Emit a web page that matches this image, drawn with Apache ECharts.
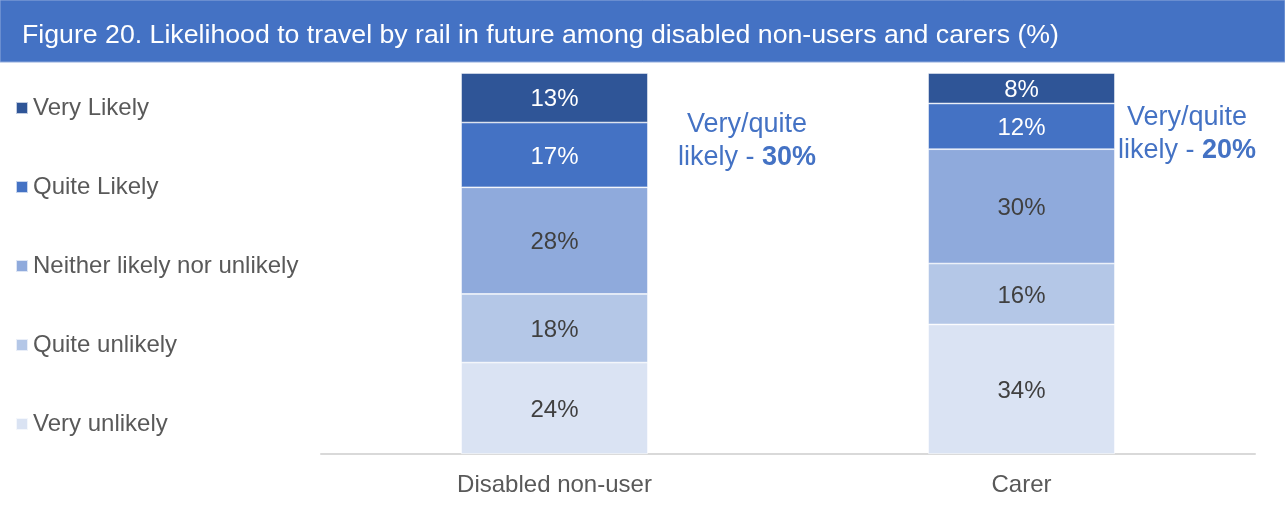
<!DOCTYPE html>
<html>
<head>
<meta charset="utf-8">
<script src="https://cdn.jsdelivr.net/npm/echarts@6/dist/echarts.min.js"></script>
<style>
  html, body { margin: 0; padding: 0; background: #fff; }
  #chart { width: 1285px; height: 511px; }
</style>
</head>
<body>
<div id="chart"></div>
<script>
// Survey groups and answer shares (%)
const categories = ['Disabled non-user', 'Carer'];
const veryUnlikely = [24, 34];
const quiteUnlikely = [18, 16];
const neitherLikely = [28, 30];
const quiteLikely = [17, 12];
const veryLikely = [13, 8];

const seriesNames = ['Very unlikely', 'Quite unlikely', 'Neither likely nor unlikely', 'Quite Likely', 'Very Likely'];
const seriesValues = [veryUnlikely, quiteUnlikely, neitherLikely, quiteLikely, veryLikely];
const seriesColors = ['#DAE3F3', '#B4C7E7', '#8FAADC', '#4472C4', '#2F5597'];
const labelColors = ['#404040', '#404040', '#404040', '#ffffff', '#ffffff'];

const FONT = '"Liberation Sans", Arial, sans-serif';

const chart = echarts.init(document.getElementById('chart'), null, { renderer: 'canvas' });

const series = seriesNames.map((name, i) => ({
  name,
  type: 'bar',
  stack: 'total',
  barWidth: '40%',
  data: seriesValues[i],
  itemStyle: { color: seriesColors[i], borderColor: 'rgba(255,255,255,0.7)', borderWidth: 0.75 },
  label: {
    show: true,
    position: 'inside',
    offset: [0, 2],
    formatter: '{c}%',
    color: labelColors[i],
    fontFamily: FONT,
    fontSize: 24
  },
  emphasis: { disabled: true }
}));

// "Very/quite likely" totals, summed from the two likely answers
const likelyTotals = categories.map((_, i) => quiteLikely[i] + veryLikely[i]);
const notePositions = [[747, 108], [1187, 101]];

const option = {
  animation: false,
  title: {
    text: 'Figure 20. Likelihood to travel by rail in future among disabled non-users and carers (%)',
    left: 17,
    top: 17,
    z: 10,
    textStyle: { color: '#ffffff', fontFamily: FONT, fontSize: 26.7, fontWeight: 'normal' }
  },
  legend: {
    orient: 'vertical',
    left: 15,
    top: 96,
    padding: 0,
    itemWidth: 12,
    itemHeight: 12,
    itemGap: 55,
    icon: 'rect',
    data: seriesNames.slice().reverse(),
    textStyle: { color: '#595959', fontFamily: FONT, fontSize: 24, lineHeight: 24 }
  },
  grid: { left: 321, right: 30, top: 73, bottom: 57, containLabel: false },
  xAxis: {
    type: 'category',
    data: categories,
    axisLine: { lineStyle: { color: '#d9d9d9', width: 2 } },
    axisTick: { show: false },
    axisLabel: { color: '#595959', fontFamily: FONT, fontSize: 24, margin: 19 }
  },
  yAxis: {
    type: 'value',
    min: 0,
    max: 100,
    show: false,
    splitLine: { show: false }
  },
  graphic: [
    {
      type: 'rect',
      z: 0,
      shape: { x: 0, y: 0, width: 1285, height: 62 },
      style: { fill: '#4472C4', stroke: '#8FAADC', lineWidth: 1 }
    }
  ].concat(likelyTotals.map((total, i) => ({
    type: 'text',
    x: notePositions[i][0],
    y: notePositions[i][1],
    z: 10,
    style: {
      text: '{n|Very/quite}\n{n|likely - }{b|' + total + '%}',
      align: 'center',
      verticalAlign: 'top',
      rich: {
        n: { fill: '#4472C4', fontFamily: FONT, fontSize: 27, lineHeight: 33 },
        b: { fill: '#4472C4', fontFamily: FONT, fontSize: 27, fontWeight: 'bold', lineHeight: 33 }
      }
    }
  }))),
  series
};

chart.setOption(option);
</script>
</body>
</html>
